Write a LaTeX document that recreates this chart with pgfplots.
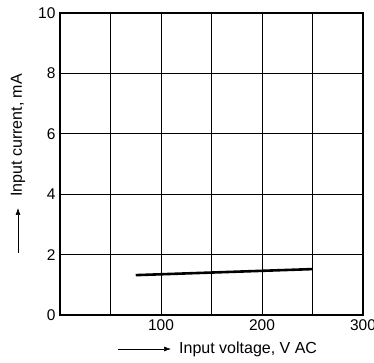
\documentclass[border=0pt]{standalone}
\usepackage{pgfplots}
\pgfplotsset{compat=1.18}
\usepackage{fontspec}
\setmainfont{Liberation Sans}
\usetikzlibrary{arrows.meta}

\begin{document}
\begin{tikzpicture}[x=1pt,y=1pt]
\begin{axis}[
  at={(0,0)}, anchor=south west,
  scale only axis,
  width=303pt, height=302pt,
  xmin=0, xmax=300, ymin=0, ymax=10,
  xtick={100,200,300},
  minor xtick={50,150,250},
  ytick={0,2,4,6,8,10},
  grid=both,
  major grid style={black, line width=0.8pt},
  minor grid style={black, line width=0.8pt},
  major tick length=0pt, minor tick length=0pt,
  axis line style={black, line width=1.6pt},
  tick label style={font=\fontsize{15.5}{17}\selectfont},
  /pgf/number format/assume math mode=true,
  xticklabel style={yshift=-1pt},
  yticklabel style={xshift=-1pt},
  clip=false,
]
  % input current over the supply range
  \addplot[black, line width=2.6pt, line cap=butt] coordinates {(75,1.32) (250,1.52)};
\end{axis}
% axis titles with direction arrows
\draw[-{Latex[length=7pt,width=5pt]}, line width=0.6pt] (58,-34) -- (111,-34);
\node[anchor=west, inner sep=0pt, font=\fontsize{16}{18}\selectfont] at (119,-34) {Input voltage, V AC};
\draw[-{Latex[length=7pt,width=5pt]}, line width=0.6pt] (-42,62) -- (-42,107);
\node[anchor=west, rotate=90, inner sep=0pt, font=\fontsize{16}{18}\selectfont] at (-42,118) {Input current, mA};
\pgfresetboundingbox
\path[use as bounding box] (-60,-48) rectangle (314,315);
\end{tikzpicture}
\end{document}
